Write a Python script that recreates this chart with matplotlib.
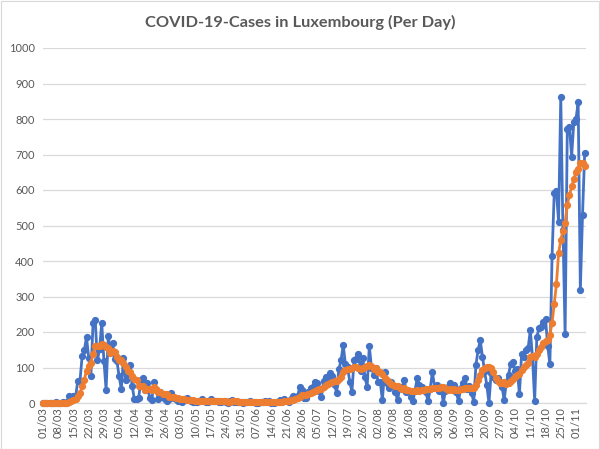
import datetime as dt
import matplotlib
matplotlib.use('Agg')
import matplotlib.pyplot as plt
import numpy as np

# daily new cases, starting 01/03/2020 (one value per day)
start = dt.date(2020, 3, 1)
cases = [
    0, 0, 0, 0, 0, 0, 2, 0, 1, 2,
    0, 2, 19, 12, 21, 18, 63, 63, 132, 149,
    186, 128, 77, 224, 234, 120, 152, 226, 119, 38,
    190, 141, 168, 125, 117, 75, 39, 127, 64, 81,
    108, 47, 11, 11, 15, 66, 71, 36, 57, 13,
    8, 60, 36, 11, 30, 16, 12, 6, 12, 28,
    15, 11, 5, 6, 2, 11, 14, 9, 6, 4,
    2, 2, 5, 10, 7, 3, 2, 12, 6, 5,
    6, 3, 4, 6, 2, 1, 6, 8, 4, 3,
    2, 4, 0, 3, 2, 7, 3, 3, 0, 0,
    2, 4, 6, 2, 6, 0, 1, 2, 4, 8,
    7, 12, 6, 4, 11, 19, 18, 19, 44, 37,
    14, 13, 31, 41, 44, 60, 55, 35, 18, 62,
    72, 66, 84, 76, 52, 28, 95, 120, 163, 110,
    102, 60, 32, 121, 125, 138, 90, 128, 72, 46,
    160, 100, 80, 100, 60, 60, 8, 88, 55, 41,
    60, 48, 30, 8, 45, 40, 65, 30, 35, 18,
    6, 35, 70, 50, 45, 40, 30, 5, 40, 88,
    45, 52, 35, 46, 0, 35, 45, 56, 40, 50,
    30, 5, 42, 55, 70, 40, 48, 28, 3, 107,
    149, 177, 130, 90, 50, 0, 85, 74, 65, 70,
    60, 46, 8, 60, 80, 111, 116, 90, 95, 24,
    139, 130, 150, 155, 205, 130, 6, 187, 210, 213,
    229, 238, 160, 110, 414, 592, 596, 511, 862, 488,
    193, 771, 778, 694, 792, 800, 847, 318, 530, 705,
]

# 7 day average (orange line)
avg7 = [
    0, 0, 0, 0, 0, 0, 0.3, 0.3, 0.4, 0.7,
    0.7, 1.0, 3.7, 5.1, 8.1, 10.6, 19.3, 28.3, 46.9, 65.4,
    90.3, 105.6, 114.0, 137.0, 161.4, 159.7, 160.1, 165.9, 164.6, 159.0,
    154.1, 140.9, 147.7, 143.9, 128.3, 122.0, 122.1, 113.1, 102.1, 89.7,
    87.3, 77.3, 68.1, 64.1, 48.1, 48.4, 47.0, 36.7, 38.1, 38.4,
    38.0, 44.4, 40.1, 31.6, 30.7, 24.9, 24.7, 24.4, 17.6, 16.4,
    17.0, 14.3, 12.7, 11.9, 11.3, 11.1, 9.1, 8.3, 7.6, 7.4,
    6.9, 6.9, 6.0, 5.4, 5.1, 4.7, 4.4, 5.9, 6.4, 6.4,
    5.9, 5.3, 5.4, 6.0, 4.6, 3.9, 4.0, 4.3, 4.4, 4.3,
    3.7, 4.0, 3.9, 3.4, 2.6, 3.0, 3.0, 3.1, 2.6, 2.6,
    2.4, 2.7, 2.6, 2.4, 2.9, 2.9, 3.0, 3.0, 3.0, 3.3,
    4.0, 4.9, 5.7, 6.1, 7.4, 9.6, 11.0, 12.7, 17.3, 21.7,
    23.1, 23.4, 25.1, 28.4, 32.0, 34.3, 36.9, 39.9, 40.6, 45.0,
    49.4, 52.6, 56.0, 59.0, 61.4, 62.9, 67.6, 74.4, 88.3, 92.0,
    95.7, 96.9, 97.4, 101.1, 101.9, 98.3, 95.4, 99.1, 100.9, 102.9,
    108.4, 104.9, 96.6, 98.0, 88.3, 86.6, 81.1, 70.9, 64.4, 58.9,
    53.1, 51.4, 47.1, 47.1, 41.0, 38.9, 42.3, 38.0, 36.1, 34.4,
    34.1, 32.7, 37.0, 34.9, 37.0, 37.7, 39.4, 39.3, 40.0, 42.6,
    41.9, 42.9, 42.1, 44.4, 43.7, 43.0, 36.9, 38.4, 36.7, 38.9,
    36.6, 37.3, 38.3, 39.7, 41.7, 41.7, 41.4, 41.1, 40.9, 50.1,
    63.6, 78.9, 91.7, 97.7, 100.9, 100.4, 97.3, 86.6, 70.6, 62.0,
    57.7, 57.1, 58.3, 54.7, 55.6, 62.1, 68.7, 73.0, 80.0, 82.3,
    93.6, 100.7, 106.3, 111.9, 128.3, 133.3, 130.7, 137.6, 149.0, 158.0,
    168.6, 173.3, 177.6, 192.4, 224.9, 279.4, 334.1, 422, 459, 485,
    507, 558, 585, 610, 630, 652, 660, 675, 676, 668,
]

days = np.arange(len(cases))
tick_days = days[::7]
tick_labels = [(start + dt.timedelta(days=int(d))).strftime('%d/%m') for d in tick_days]
y_ticks = list(range(0, 1001, 100))

plt.rcParams['font.family'] = ['Lato', 'DejaVu Sans']
grey_txt = '#595959'
grid_col = '#d9d9d9'

fig = plt.figure(figsize=(6, 4.49), dpi=100)
ax = fig.add_axes([43/600, 46/449, 543/600, 355/449])

ax.plot(days, cases, color='#4472C4', lw=2.0, marker='o', ms=4.2,
        zorder=3, clip_on=False)
ax.plot(days, avg7, color='#ED7D31', lw=2.0, marker='o', ms=4.2,
        zorder=4, clip_on=False)

ax.set_xlim(0, 249.6)
ax.set_ylim(0, 1000)
ax.set_yticks(y_ticks)
ax.set_xticks(tick_days)
ax.set_xticklabels(tick_labels, rotation=90)
ax.grid(axis='y', color=grid_col, lw=0.9)
ax.set_axisbelow(True)
for s in ['top', 'right', 'left']:
    ax.spines[s].set_visible(False)
ax.spines['bottom'].set_color(grid_col)
ax.spines['bottom'].set_linewidth(0.9)
ax.tick_params(axis='both', length=0, labelsize=8, colors=grey_txt)
ax.tick_params(axis='y', pad=6)
ax.tick_params(axis='x', pad=3)

fig.text(0.5, 1 - 22/449, 'COVID-19-Cases in Luxembourg (Per Day)',
         ha='center', va='center', fontsize=11.8, fontweight='bold', color=grey_txt)

fig.patches.append(plt.Rectangle((0.5/600, 0.5/449), 598.5/600, 447.5/449,
                                 transform=fig.transFigure, fill=False,
                                 ec=grid_col, lw=0.8))

fig.savefig('out.png', dpi=100)
